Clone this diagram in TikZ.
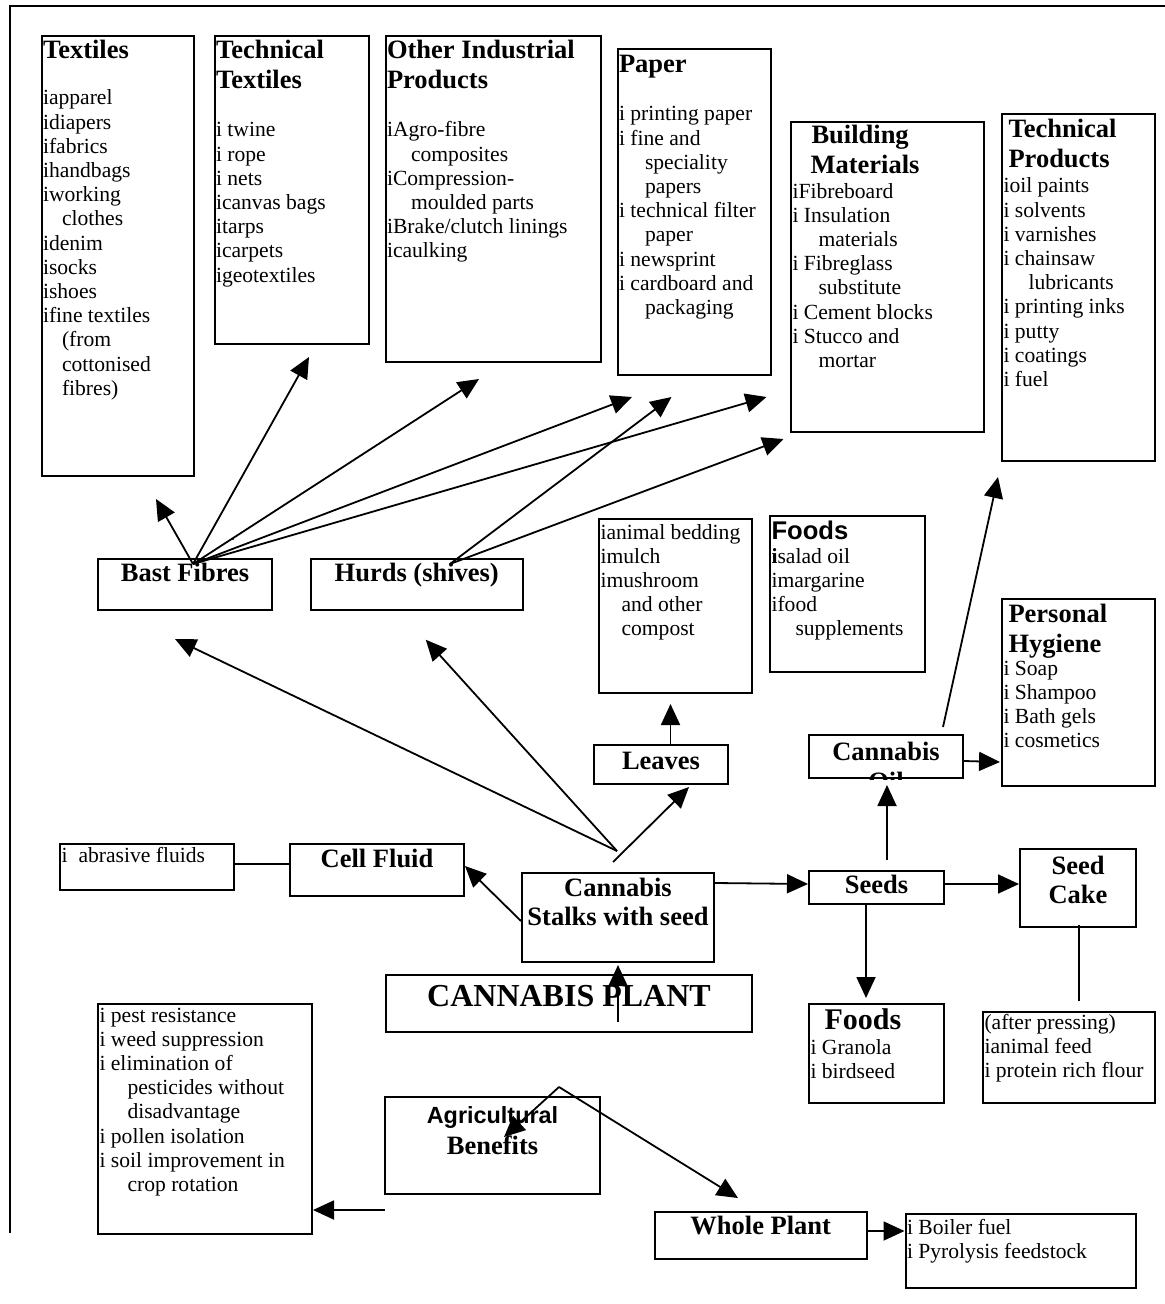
\documentclass[tikz,border=0pt]{standalone}
\usepackage{fontspec}
\setmainfont{Liberation Serif}
\newfontfamily\sansf{Liberation Sans}
\usetikzlibrary{arrows.meta,calc}
\newlength{\px}
\setlength{\px}{0.5pt}
\newcommand{\bodyf}{\fontsize{10.8}{12.1}\selectfont}
\newcommand{\hd}[1]{{\fontsize{13.25}{15}\selectfont\bfseries #1}}
\newcommand{\ind}[1]{\hspace*{#1\px}}
\newcommand{\panel}[5][\raggedright]{%
  \begin{minipage}[t][#3\px][t]{#2\px}\bodyf\lineskiplimit=-\maxdimen
  #1\rule{0pt}{#4\px}#5\end{minipage}}

\begin{document}
\begin{tikzpicture}[x=0.5pt,y=-0.5pt,
  card/.style={draw,line width=1pt,anchor=north west,inner xsep=0.75pt,inner ysep=0pt},
  link/.style={line width=0.9pt,-{Triangle[length=10.5pt,width=9.5pt]}},
  wire/.style={line width=0.9pt}]

\useasboundingbox (0,0) rectangle (1165,1304);
\draw[line width=1pt] (10,1233) -- (10,6) -- (1165,6);

\node[card] (tx) at (40.5,35) {\panel{149.5}{440}{23}{\hd{Textiles}\\[21.8\px]
  iapparel\\ idiapers\\ ifabrics\\ ihandbags\\ iworking\\ \ind{19}clothes\\ idenim\\ isocks\\ ishoes\\
  ifine textiles\\ \ind{19}(from\\ \ind{19}cottonised\\ \ind{19}fibres)}};
\node[card] (tt) at (213.5,35) {\panel{151}{308}{23}{\hd{Technical}\\[5.8\px]\hd{Textiles}\\[23.8\px]
  i twine\\ i rope\\ i nets\\ icanvas bags\\ itarps\\ icarpets\\ igeotextiles}};
\node[card] (oi) at (384.5,35) {\panel{212.5}{326}{23}{\hd{Other Industrial}\\[5.8\px]\hd{Products}\\[23.8\px]
  iAgro-fibre\\ \ind{24}composites\\ iCompression-\\ \ind{24}moulded parts\\ iBrake/clutch linings\\ icaulking}};
\node[card] (pa) at (616.5,48) {\panel{150}{326}{24}{\hd{Paper}\\[23.8\px]
  i printing paper\\ i fine and\\ \ind{26}speciality\\ \ind{26}papers\\ i technical filter\\ \ind{26}paper\\
  i newsprint\\ i cardboard and\\ \ind{26}packaging}};
\node[card] (bm) at (790,121) {\panel{190}{310}{22}{\ind{19}\hd{Building}\\[5.8\px]\ind{18}\hd{Materials}\\
  iFibreboard\\ i Insulation\\ \ind{26}materials\\ i Fibreglass\\ \ind{26}substitute\\ i Cement blocks\\
  i Stucco and\\ \ind{26}mortar}};
\node[card] (tp) at (1001,113) {\panel{150}{347}{24}{\ind{5}\hd{Technical}\\[5.8\px]\ind{5}\hd{Products}\\[0.8\px]
  ioil paints\\ i solvents\\ i varnishes\\ i chainsaw\\ \ind{25}lubricants\\ i printing inks\\ i putty\\
  i coatings\\ i fuel}};

\node[card] (bf) at (97,558) {\panel[\centering]{171}{51}{22}{\hd{Bast Fibres}}};
\node[card] (hs) at (310,558) {\panel[\centering]{208.5}{51}{22}{\hd{Hurds (shives)}}};
\node[card] (lu) at (598,518) {\panel{150}{174}{20}{ianimal bedding\\ imulch\\ imushroom\\ \ind{21}and other\\
  \ind{21}compost}};
\node[card] (fa) at (769,515) {\panel{152}{156}{23}{{\sansf\fontsize{12.8}{15}\selectfont\bfseries Foods}\\
  \textbf{i}salad oil\\ imargarine\\ ifood\\ \ind{24}supplements}};
\node[card] (ph) at (1001,598) {\panel{150}{187}{23}{\ind{5}\hd{Personal}\\[5.8\px]\ind{5}\hd{Hygiene}\\[-1.2\px]
  i Soap\\ i Shampoo\\ i Bath gels\\ i cosmetics}};
\node[card] (lv) at (593,744) {\panel[\centering]{131}{39}{24}{\hd{Leaves}}};
\begin{scope}
\clip (800,720) rectangle (970,779);
\node[card] (co) at (808,734) {\panel[\centering]{151}{43}{25}{\hd{Cannabis}\\[5.8\px]\hd{Oil}}};
\end{scope}

\node[card] (af) at (59,843) {\panel{171}{46}{18}{i\ind{11}abrasive fluids}};
\node[card] (cf) at (289,843) {\panel[\centering]{171}{52}{23}{\hd{Cell Fluid}}};
\node[card] (cs) at (521,872) {\panel[\centering]{189}{89}{23}{\hd{Cannabis}\\[4.8\px]\hd{Stalks with seed}}};
\node[card] (sd) at (808,870) {\panel[\centering]{132}{33}{22}{\hd{Seeds}}};
\node[card] (sc) at (1019,848) {\panel[\centering]{113}{78}{25}{\hd{Seed}\\[4.8\px]\hd{Cake}}};
\node[card] (cp) at (385,974) {\panel[\centering]{363}{57}{31}{{\fontsize{16}{19}\selectfont\bfseries CANNABIS PLANT}}};

\node[card] (bl) at (97,1003) {\panel{211}{230}{18}{i pest resistance\\ i weed suppression\\ i elimination of\\
  \ind{28}pesticides without\\ \ind{28}disadvantage\\ i pollen isolation\\ i soil improvement in\\
  \ind{28}crop rotation}};
\node[card] (fb) at (808,1003) {\panel{132}{99}{25}{\ind{14}{\fontsize{15}{17}\selectfont\bfseries Foods}\\[0.8\px]
  i Granola\\ i birdseed}};
\node[card] (ap) at (982,1011) {\panel{169}{91}{17}{(after pressing)\\ ianimal feed\\ i protein rich flour}};
\node[card] (ag) at (384,1096) {\panel[\centering]{212}{97}{26}{{\sansf\fontsize{11.7}{14}\selectfont\bfseries Agricultural}\\[6.8\px]\hd{Benefits}}};
\node[card] (wp) at (653.5,1211) {\panel[\centering]{209.5}{47}{22}{\hd{Whole Plant}}};
\node[card] (bo) at (904.5,1213) {\panel{227.5}{74}{20}{i Boiler fuel\\ i Pyrolysis feedstock}};

\coordinate (bfan) at ($(bf.north)+(8,6)$);
\coordinate (hfan) at ($(hs.north)+(33.25,6)$);
\coordinate (sfan) at ($(cs.north)+(-1,-21)$);
\coordinate (fork) at ($(cp.south)+(-10,54)$);

\path[link]
  (bfan) edge ($(tx.south)+(38.25,22)$)
  (bfan) edge ($(tt.south)+(17.5,12)$)
  (bfan) edge ($(oi.south)+(-14.25,16)$)
  (bfan) edge ($(pa.south west)+(15.5,21)$)
  (bfan) edge ($(bm.south west)+(-23.5,-36)$)
  (hfan) edge ($(pa.south west)+(55,21)$)
  (hfan) edge ($(bm.south west)+(-6.5,6)$)
  (sfan) edge ($(bf.south)+(-10,28)$)
  (sfan) edge ($(hs.south)+(9,28.7)$)
  ($(cs.north)+(-5,-10)$) edge ($(lv.south east)+(-40,2)$)
  ($(lv.north)+(9.5,0)$) edge ($(lu.south)+(-5,10)$)
  ($(cs.west)+(0,3.5)$) edge ($(cf.east)+(0,-4)$)
  ($(cs.north east)+(0,11)$) edge ($(sd.west)+(0,-3.5)$)
  ($(sd.east)+(0,-3.5)$) edge ($(sc.west)+(0,-4)$)
  ($(sd.north)+(10.5,-10)$) edge ($(co.south)+(1,6)$)
  ($(co.east)+(0,4.5)$) edge ($(ph.south west)+(-1,-25)$)
  ($(co.north)+(57,-7)$) edge ($(tp.south west)+(-3,15)$)
  ($(sd.south)+(-10.5,0)$) edge ($(fb.north)+(-10.5,-5)$)
  ($(cp.north)+(49,48)$) edge ($(cs.south)+(0,2)$)
  (fork) edge ($(ag.north)+(11.5,41)$)
  (fork) edge ($(wp.north)+(-22.75,-13)$)
  ($(ag.south west)+(1,15)$) edge ($(bl.south east)+(0,-25)$)
  ($(wp.east)+(0,-4.5)$) edge ($(bo.west)+(0,-20)$);

\draw[wire] ($(af.east)+(0,-3)$) -- ($(cf.west)+(0,-6)$);
\draw[wire,line width=0.7pt] ($(sc.south)+(1,-3)$) -- ($(ap.north)+(10,-10)$);
\fill (233,539) circle[radius=0.6pt];

\end{tikzpicture}
\end{document}
